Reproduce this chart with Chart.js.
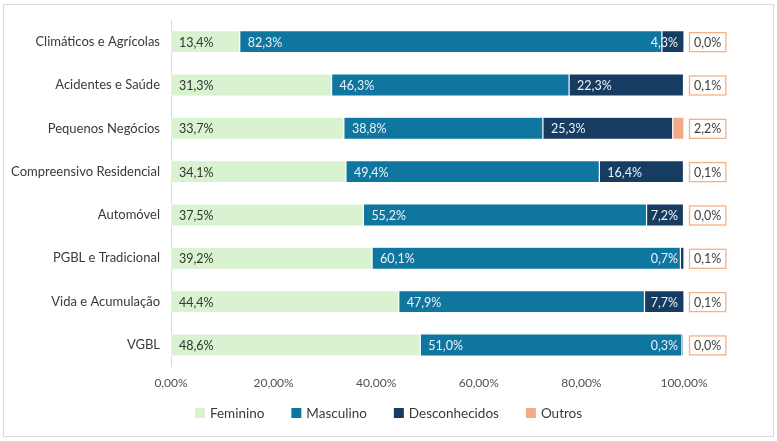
<!DOCTYPE html>
<html>
<head>
<meta charset="utf-8">
<script src="https://cdn.jsdelivr.net/npm/chart.js@4.4.1/dist/chart.umd.min.js"></script>
<style>
  html, body { margin: 0; padding: 0; background: #fff; }
  #wrap { position: relative; width: 777px; height: 441px; }
</style>
</head>
<body>
<div id="wrap"><canvas id="chartCanvas"></canvas></div>
<script>
const categories = [
  "Climáticos e Agrícolas",
  "Acidentes e Saúde",
  "Pequenos Negócios",
  "Compreensivo Residencial",
  "Automóvel",
  "PGBL e Tradicional",
  "Vida e Acumulação",
  "VGBL"
];
const feminino      = [13.4, 31.3, 33.7, 34.1, 37.5, 39.2, 44.4, 48.6];
const masculino     = [82.3, 46.3, 38.8, 49.4, 55.2, 60.1, 47.9, 51.0];
const desconhecidos = [4.3, 22.3, 25.3, 16.4, 7.2, 0.7, 7.7, 0.3];
const outros        = [0.0, 0.1, 2.2, 0.1, 0.0, 0.1, 0.1, 0.0];
const xTicks = [0, 20, 40, 60, 80, 100];

const FONT = "Lato";
const fmt = (v) => v.toFixed(1).replace(".", ",") + "%";

// frame around the whole chart
const framePlugin = {
  id: "frame",
  beforeDraw(chart) {
    const ctx = chart.ctx;
    ctx.save();
    ctx.strokeStyle = "#d9d9d9";
    ctx.lineWidth = 1;
    ctx.strokeRect(3.5, 4.5, 770, 432);
    ctx.restore();
  }
};

// value labels inside bars + boxed labels for Outros
const labelPlugin = {
  id: "barLabels",
  afterDatasetsDraw(chart) {
    const ctx = chart.ctx;
    const area = chart.chartArea;
    ctx.save();
    ctx.font = "12.5px " + FONT;
    ctx.textBaseline = "middle";
    ctx.textAlign = "left";
    [0, 1, 2].forEach((ds) => {
      const values = chart.data.datasets[ds].data;
      chart.getDatasetMeta(ds).data.forEach((bar, i) => {
        const txt = fmt(values[i]);
        const w = ctx.measureText(txt).width;
        const x = Math.min(bar.base + 8, area.right - 6 - w);
        ctx.fillStyle = ds === 0 ? "#333333" : "#eef3f7";
        ctx.fillText(txt, x, bar.y + 1);
      });
    });
    const vals = chart.data.datasets[3].data;
    chart.getDatasetMeta(3).data.forEach((bar, i) => {
      const txt = fmt(vals[i]);
      const w = ctx.measureText(txt).width;
      const bx = area.right + 5.5;
      const bw = w + 9;
      const bh = 19;
      const by = bar.y - bh / 2 + 0.5;
      ctx.fillStyle = "#ffffff";
      ctx.fillRect(bx, by, bw, bh);
      ctx.strokeStyle = "#f4b183";
      ctx.lineWidth = 1.3;
      ctx.strokeRect(bx, by, bw, bh);
      ctx.fillStyle = "#404040";
      ctx.textAlign = "center";
      ctx.fillText(txt, bx + bw / 2, bar.y + 1);
      ctx.textAlign = "left";
    });
    ctx.restore();
  }
};

// legend row under the axis (wider gaps than the built-in one allows)
const legendPlugin = {
  id: "bottomLegend",
  afterDraw(chart) {
    const ctx = chart.ctx;
    const sets = chart.data.datasets;
    const box = 10, gapBox = 5, gapItem = 27, y = 413;
    ctx.save();
    ctx.font = "13.5px " + FONT;
    ctx.textBaseline = "middle";
    ctx.textAlign = "left";
    const widths = sets.map((s) => box + gapBox + ctx.measureText(s.label).width);
    const total = widths.reduce((a, b) => a + b, 0) + gapItem * (sets.length - 1);
    let x = chart.width / 2 - total / 2;
    sets.forEach((s, i) => {
      ctx.fillStyle = s.backgroundColor;
      ctx.fillRect(x, y - box / 2, box, box);
      ctx.fillStyle = "#3a3a3a";
      ctx.fillText(s.label, x + box + gapBox, y + 1);
      x += widths[i] + gapItem;
    });
    ctx.restore();
  }
};

const mkSet = (label, data, color) => ({
  label: label,
  data: data,
  backgroundColor: color,
  borderColor: "#ffffff",
  borderWidth: 0.6,
  borderSkipped: false,
  barPercentage: 1,
  categoryPercentage: 0.51
});

const ctx = document.getElementById("chartCanvas").getContext("2d");
const chart = new Chart(ctx, {
  type: "bar",
  data: {
    labels: categories,
    datasets: [
      mkSet("Feminino", feminino, "#d9f2d0"),
      mkSet("Masculino", masculino, "#0f76a0"),
      mkSet("Desconhecidos", desconhecidos, "#173c62"),
      mkSet("Outros", outros, "#f2ab87")
    ]
  },
  options: {
    indexAxis: "y",
    responsive: true,
    maintainAspectRatio: false,
    animation: false,
    layout: { padding: { left: 0, right: 93, top: 20, bottom: 42 } },
    scales: {
      x: {
        stacked: true,
        min: 0,
        max: 100,
        afterBuildTicks(scale) {
          scale.ticks = xTicks.map((v) => ({ value: v }));
        },
        grid: { display: false, drawTicks: false },
        border: { display: false },
        ticks: {
          padding: 9,
          color: "#505050",
          font: { family: FONT, size: 12 },
          callback: (v) => v.toFixed(2).replace(".", ",") + "%"
        }
      },
      y: {
        stacked: true,
        afterFit(scale) { scale.width = 171; },
        grid: { display: false, drawTicks: false },
        border: { display: true, color: "#d9d9d9", width: 1 },
        ticks: {
          padding: 11,
          color: "#3a3a3a",
          font: { family: FONT, size: 13 }
        }
      }
    },
    plugins: {
      legend: { display: false },
      tooltip: { enabled: false }
    }
  },
  plugins: [framePlugin, labelPlugin, legendPlugin]
});
</script>
</body>
</html>
